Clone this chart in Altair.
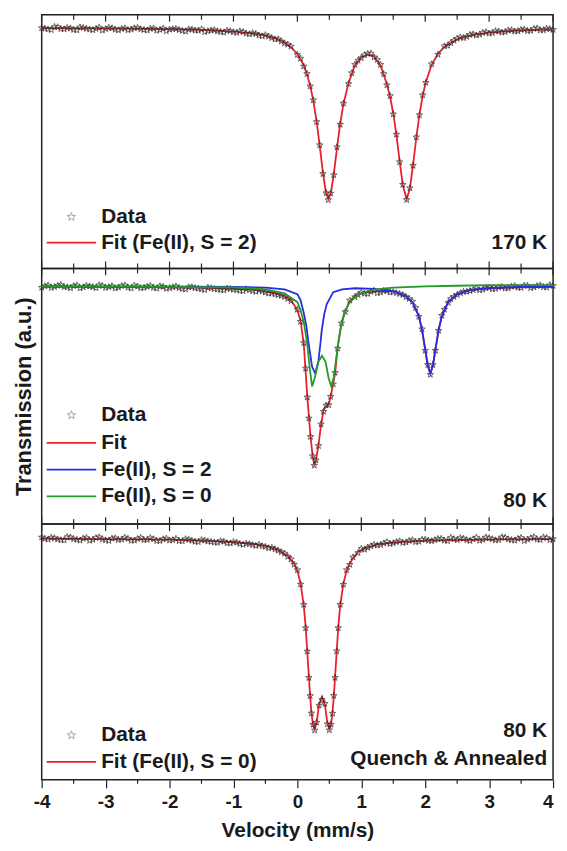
import altair as alt
import pandas as pd

FONT = "Liberation Sans"
RED = "#e8202a"
BLUE = "#2a2ae6"
GREEN = "#249a2c"
DARK = "#1a1a1a"
STAR = ("M0,-1L0.235,-0.324L0.951,-0.309L0.380,0.124L0.588,0.809L0,0.4L-0.588,0.809"
        "L-0.380,0.124L-0.951,-0.309L-0.235,-0.324Z")

# ---------------- axis ticks ----------------
major_ticks = [-4, -3, -2, -1, 0, 1, 2, 3, 4]
minor_ticks = [-3.5, -2.5, -1.5, -0.5, 0.5, 1.5, 2.5, 3.5]

# ---------------- panel 1 : 170 K ----------------
p1_fit_x = [-4.0, -3.0, -2.0, -1.5, -1.0, -0.7, -0.5, -0.3, -0.2, -0.1, 0.0, 0.05, 0.1, 0.15, 0.2, 0.25,
            0.3, 0.35, 0.4, 0.45, 0.485, 0.52, 0.57, 0.62, 0.67, 0.72, 0.8, 0.9, 1.0, 1.1, 1.2, 1.3, 1.4,
            1.45, 1.5, 1.55, 1.6, 1.65, 1.71, 1.76, 1.81, 1.86, 1.91, 1.96, 2.01, 2.1, 2.2, 2.3, 2.5, 2.7,
            3.0, 3.5, 4.0]
p1_fit_y = [99.97, 99.95, 99.91, 99.87, 99.77, 99.66, 99.54, 99.31, 99.13, 98.86, 98.46, 98.16, 97.78,
            97.28, 96.62, 95.73, 94.55, 93.10, 91.52, 90.31, 90.00, 90.28, 91.45, 92.98, 94.40, 95.53,
            96.76, 97.80, 98.27, 98.44, 98.32, 97.80, 96.69, 95.98, 94.99, 93.72, 92.21, 90.79, 90.00,
            90.60, 91.99, 93.56, 94.94, 96.02, 96.83, 97.83, 98.47, 98.88, 99.32, 99.54, 99.71, 99.84,
            99.90]
p1_data_x = [-4.0, -3.9, -3.8, -3.7, -3.6, -3.5, -3.4, -3.3, -3.2, -3.1, -3.0, -2.9, -2.8, -2.7, -2.6,
             -2.5, -2.4, -2.3, -2.2, -2.1, -2.0, -1.9, -1.8, -1.7, -1.6, -1.5, -1.4, -1.3, -1.2, -1.1,
             -1.0, -0.9, -0.8, -0.7, -0.6, -0.5, -0.4, -0.3, -0.2, -0.1, 0.0, 0.05, 0.1, 0.15, 0.2, 0.25,
             0.3, 0.35, 0.4, 0.45, 0.485, 0.52, 0.57, 0.62, 0.67, 0.72, 0.8, 0.9, 1.0, 1.1, 1.2, 1.3, 1.4,
             1.45, 1.5, 1.55, 1.6, 1.65, 1.71, 1.76, 1.81, 1.86, 1.91, 1.96, 2.01, 2.1, 2.2, 2.3, 2.4, 2.5,
             2.6, 2.7, 2.8, 2.9, 3.0, 3.1, 3.2, 3.3, 3.4, 3.5, 3.6, 3.7, 3.8, 3.9, 4.0]
p1_data_y = [99.98, 99.90, 100.05, 99.93, 99.99, 99.88, 100.02, 99.94, 99.86, 100.01, 99.92, 99.97,
             99.85, 99.96, 99.90, 100.00, 99.87, 99.94, 99.83, 99.95, 99.89, 99.93, 99.82, 99.90, 99.84,
             99.91, 99.80, 99.86, 99.76, 99.83, 99.74, 99.79, 99.66, 99.68, 99.55, 99.57, 99.40, 99.33,
             99.08, 98.90, 98.42, 98.20, 97.74, 97.31, 96.58, 95.77, 94.50, 93.15, 91.47, 90.35, 89.95,
             90.33, 91.40, 93.03, 94.35, 95.58, 96.72, 97.84, 98.23, 98.48, 98.28, 97.84, 96.65, 96.02,
             94.95, 93.77, 92.16, 90.84, 89.96, 90.64, 91.95, 93.61, 94.90, 96.06, 96.79, 97.87, 98.43,
             98.92, 99.10, 99.36, 99.40, 99.58, 99.55, 99.70, 99.66, 99.80, 99.72, 99.84, 99.78, 99.88,
             99.81, 99.93, 99.85, 99.95, 99.88]
p1_data2_x = [-3.95, -3.85, -3.75, -3.65, -3.55, -3.45, -3.35, -3.25, -3.15, -3.05, -2.95, -2.85, -2.75,
              -2.65, -2.55, -2.45, -2.35, -2.25, -2.15, -2.05, -1.95, -1.85, -1.75, -1.65, -1.55, -1.45,
              -1.35, -1.25, -1.15, -1.05, -0.95, -0.85, -0.75, -0.65, -0.55, -0.45, -0.35, -0.25, -0.15,
              0.85, 0.95, 1.05, 1.15, 1.25, 1.35, 2.35, 2.45, 2.55, 2.65, 2.75, 2.85, 2.95, 3.05, 3.15,
              3.25, 3.35, 3.45, 3.55, 3.65, 3.75, 3.85, 3.95]
p1_data2_y = [99.95, 99.87, 100.03, 99.91, 99.96, 99.85, 99.99, 99.90, 99.94, 99.84, 100.00, 99.89, 99.93,
              99.86, 99.97, 99.91, 99.84, 99.96, 99.88, 99.80, 99.92, 99.87, 99.78, 99.89, 99.83, 99.75,
              99.84, 99.79, 99.72, 99.80, 99.70, 99.75, 99.62, 99.64, 99.50, 99.49, 99.32, 99.20, 99.02,
              97.35, 98.08, 98.40, 98.50, 98.12, 97.30, 98.95, 99.25, 99.44, 99.47, 99.62, 99.60, 99.74,
              99.69, 99.78, 99.75, 99.86, 99.80, 99.90, 99.83, 99.96, 99.86, 99.92]

# ---------------- panel 2 : 80 K ----------------
p2_fit_x = [-4.0, -3.0, -2.0, -1.5, -1.0, -0.7, -0.5, -0.3, -0.2, -0.1, 0.0, 0.05, 0.1, 0.155, 0.205, 0.24,
            0.265, 0.29, 0.33, 0.37, 0.41, 0.45, 0.49, 0.52, 0.56, 0.59, 0.63, 0.69, 0.75, 0.82, 0.9, 1.0,
            1.2, 1.5, 1.7, 1.8, 1.9, 1.95, 2.0, 2.04, 2.08, 2.12, 2.16, 2.21, 2.26, 2.36, 2.5, 2.7, 3.0,
            3.5, 4.0]
p2_fit_y = [100.00, 99.97, 99.94, 99.92, 99.86, 99.81, 99.72, 99.56, 99.44, 99.22, 98.67, 98.06, 96.78,
            93.83, 91.61, 90.44, 90.00, 90.22, 91.11, 92.22, 93.06, 93.28, 93.39, 93.78, 94.56, 95.11,
            96.56, 97.89, 98.61, 99.17, 99.44, 99.61, 99.72, 99.72, 99.44, 99.11, 98.33, 97.56, 96.44,
            95.56, 95.11, 95.56, 96.44, 97.56, 98.33, 99.11, 99.56, 99.78, 99.89, 99.94, 99.97]
p2_s2_x = [-4.0, -2.0, -1.0, -0.5, -0.2, 0.0, 0.05, 0.1, 0.14, 0.17, 0.2, 0.23, 0.28, 0.33, 0.36, 0.38,
           0.42, 0.46, 0.56, 0.7, 0.9, 1.2, 1.5, 1.7, 1.8, 1.9, 1.95, 2.0, 2.04, 2.08, 2.12, 2.16, 2.21,
           2.26, 2.36, 2.5, 2.7, 3.0, 3.5, 4.0]
p2_s2_y = [99.98, 99.98, 99.96, 99.93, 99.83, 99.56, 99.22, 98.50, 97.78, 96.94, 96.22, 95.50, 95.11,
           95.83, 96.78, 97.50, 98.44, 99.00, 99.67, 99.83, 99.89, 99.86, 99.73, 99.46, 99.11, 98.32,
           97.56, 96.46, 95.54, 95.11, 95.54, 96.46, 97.56, 98.32, 99.13, 99.57, 99.79, 99.91, 99.96,
           99.98]
p2_s0_x = [-4.0, -2.0, -1.0, -0.5, -0.2, 0.0, 0.05, 0.1, 0.15, 0.2, 0.23, 0.27, 0.33, 0.385, 0.44, 0.49,
           0.53, 0.57, 0.62, 0.67, 0.72, 0.8, 0.9, 1.0, 1.2, 1.5, 2.0, 2.5, 3.0, 4.0]
p2_s0_y = [100.00, 99.97, 99.94, 99.83, 99.61, 99.11, 98.67, 98.00, 96.89, 95.22, 94.39, 94.83, 95.78,
           96.11, 95.78, 94.83, 94.39, 94.89, 96.33, 97.56, 98.33, 99.00, 99.39, 99.61, 99.81, 99.92,
           100.00, 100.03, 100.06, 100.06]
p2_data_x = [-4.0, -3.9, -3.8, -3.7, -3.6, -3.5, -3.4, -3.3, -3.2, -3.1, -3.0, -2.9, -2.8, -2.7, -2.6,
             -2.5, -2.4, -2.3, -2.2, -2.1, -2.0, -1.9, -1.8, -1.7, -1.6, -1.5, -1.4, -1.3, -1.2, -1.1,
             -1.0, -0.9, -0.8, -0.7, -0.6, -0.5, -0.4, -0.3, -0.2, -0.1, 0.0, 0.05, 0.1, 0.13, 0.155,
             0.18, 0.205, 0.24, 0.265, 0.29, 0.33, 0.37, 0.41, 0.45, 0.49, 0.52, 0.56, 0.59, 0.63, 0.69,
             0.75, 0.82, 0.9, 1.0, 1.1, 1.2, 1.3, 1.4, 1.5, 1.6, 1.7, 1.8, 1.85, 1.9, 1.95, 2.0, 2.04,
             2.08, 2.12, 2.16, 2.21, 2.26, 2.3, 2.36, 2.4, 2.5, 2.6, 2.7, 2.8, 2.9, 3.0, 3.1, 3.2, 3.3,
             3.4, 3.5, 3.6, 3.7, 3.8, 3.9, 4.0]
p2_data_y = [99.93, 100.05, 99.97, 100.08, 99.95, 100.02, 99.90, 100.04, 99.96, 100.07, 99.92, 100.01,
             99.94, 100.06, 99.89, 99.99, 99.93, 100.03, 99.88, 99.97, 99.91, 100.00, 99.86, 99.95, 99.90,
             99.84, 99.93, 99.85, 99.80, 99.88, 99.82, 99.76, 99.84, 99.74, 99.78, 99.66, 99.61, 99.52,
             99.41, 99.18, 98.70, 98.02, 96.83, 95.40, 93.78, 92.60, 91.57, 90.48, 89.96, 90.25, 91.06,
             92.27, 92.98, 93.33, 93.35, 93.82, 94.51, 95.16, 96.52, 97.93, 98.57, 99.21, 99.40, 99.65,
             99.58, 99.76, 99.66, 99.74, 99.68, 99.58, 99.40, 99.15, 98.80, 98.30, 97.60, 96.40, 95.60,
             95.05, 95.60, 96.40, 97.52, 98.36, 98.70, 99.08, 99.30, 99.52, 99.70, 99.75, 99.88, 99.82,
             99.93, 99.86, 99.97, 99.90, 100.02, 99.92, 100.04, 99.95, 100.06, 99.94, 100.03]
p2_data2_x = [-3.95, -3.85, -3.75, -3.65, -3.55, -3.45, -3.35, -3.25, -3.15, -3.05, -2.95, -2.85, -2.75,
              -2.65, -2.55, -2.45, -2.35, -2.25, -2.15, -2.05, -1.95, -1.85, -1.75, -1.65, -1.55, -1.45,
              -1.35, -1.25, -1.15, -1.05, -0.95, -0.85, -0.75, -0.65, -0.55, -0.45, -0.35, -0.25, -0.15,
              0.95, 1.05, 1.15, 1.25, 1.35, 1.45, 1.55, 1.65, 1.75, 2.45, 2.55, 2.65, 2.75, 2.85, 2.95,
              3.05, 3.15, 3.25, 3.35, 3.45, 3.55, 3.65, 3.75, 3.85, 3.95]
p2_data2_y = [100.01, 99.92, 100.04, 99.97, 99.90, 100.06, 99.95, 100.00, 99.91, 100.03, 99.96, 99.89,
              100.02, 99.94, 100.05, 99.90, 99.98, 99.92, 100.01, 99.87, 99.95, 99.91, 99.83, 99.96, 99.88,
              99.80, 99.90, 99.83, 99.78, 99.86, 99.80, 99.73, 99.79, 99.70, 99.72, 99.60, 99.55, 99.47,
              99.30, 99.52, 99.60, 99.70, 99.62, 99.75, 99.66, 99.63, 99.52, 99.30, 99.42, 99.62, 99.70,
              99.80, 99.78, 99.90, 99.84, 99.95, 99.88, 99.99, 99.93, 100.05, 99.91, 100.02, 99.96, 100.07]

# ---------------- panel 3 : 80 K quench & annealed ----------------
p3_fit_x = [-4.0, -3.0, -2.0, -1.5, -1.0, -0.7, -0.5, -0.3, -0.15, -0.05, 0.0, 0.05, 0.1, 0.13, 0.155,
            0.18, 0.2, 0.22, 0.245, 0.27, 0.3, 0.34, 0.385, 0.43, 0.47, 0.5, 0.525, 0.55, 0.57, 0.59,
            0.615, 0.64, 0.67, 0.72, 0.77, 0.82, 0.87, 0.95, 1.1, 1.3, 1.6, 2.0, 3.0, 4.0]
p3_fit_y = [99.97, 99.95, 99.92, 99.87, 99.79, 99.69, 99.59, 99.38, 99.07, 98.65, 98.29, 97.62, 96.48,
            95.34, 94.04, 92.75, 91.71, 90.88, 90.21, 90.00, 90.31, 91.30, 91.71, 91.30, 90.31, 90.00,
            90.21, 90.88, 91.71, 92.75, 94.04, 95.34, 96.48, 97.62, 98.29, 98.65, 98.96, 99.27, 99.53,
            99.69, 99.79, 99.87, 99.92, 99.95]
p3_data_x = [-4.0, -3.9, -3.8, -3.7, -3.6, -3.5, -3.4, -3.3, -3.2, -3.1, -3.0, -2.9, -2.8, -2.7, -2.6,
             -2.5, -2.4, -2.3, -2.2, -2.1, -2.0, -1.9, -1.8, -1.7, -1.6, -1.5, -1.4, -1.3, -1.2, -1.1,
             -1.0, -0.9, -0.8, -0.7, -0.6, -0.5, -0.4, -0.3, -0.2, -0.15, -0.1, -0.05, 0.0, 0.05, 0.1,
             0.13, 0.155, 0.18, 0.2, 0.22, 0.245, 0.27, 0.3, 0.34, 0.385, 0.43, 0.47, 0.5, 0.525, 0.55,
             0.57, 0.59, 0.615, 0.64, 0.67, 0.72, 0.77, 0.82, 0.87, 0.95, 1.0, 1.1, 1.2, 1.3, 1.4, 1.5,
             1.6, 1.7, 1.8, 1.9, 2.0, 2.1, 2.2, 2.3, 2.4, 2.5, 2.6, 2.7, 2.8, 2.9, 3.0, 3.1, 3.2, 3.3,
             3.4, 3.5, 3.6, 3.7, 3.8, 3.9, 4.0]
p3_data_y = [100.04, 99.93, 100.00, 99.90, 100.06, 99.95, 99.88, 100.02, 99.92, 100.05, 99.89, 99.98,
             99.91, 100.03, 99.87, 99.96, 99.90, 100.01, 99.85, 99.94, 99.88, 99.97, 99.84, 99.92, 99.82,
             99.90, 99.83, 99.78, 99.85, 99.74, 99.80, 99.70, 99.72, 99.64, 99.66, 99.55, 99.50, 99.35,
             99.20, 99.03, 98.90, 98.62, 98.33, 97.58, 96.52, 95.30, 94.08, 92.70, 91.75, 90.84, 90.25,
             89.95, 90.36, 91.25, 91.55, 91.34, 90.27, 89.96, 90.25, 90.83, 91.76, 92.70, 94.09, 95.30,
             96.52, 97.57, 98.33, 98.61, 99.00, 99.23, 99.45, 99.50, 99.66, 99.65, 99.80, 99.74, 99.84,
             99.78, 99.90, 99.82, 99.93, 99.85, 99.96, 99.88, 100.02, 99.90, 99.98, 99.86, 100.03, 99.92,
             100.00, 99.89, 100.05, 99.94, 99.88, 100.02, 99.93, 100.06, 99.91, 100.01, 99.95]
p3_data2_x = [-3.95, -3.85, -3.75, -3.65, -3.55, -3.45, -3.35, -3.25, -3.15, -3.05, -2.95, -2.85, -2.75,
              -2.65, -2.55, -2.45, -2.35, -2.25, -2.15, -2.05, -1.95, -1.85, -1.75, -1.65, -1.55, -1.45,
              -1.35, -1.25, -1.15, -1.05, -0.95, -0.85, -0.75, -0.65, -0.55, -0.45, -0.35, -0.25, 1.05,
              1.15, 1.25, 1.35, 1.45, 1.55, 1.65, 1.75, 1.85, 1.95, 2.05, 2.15, 2.25, 2.35, 2.45, 2.55,
              2.65, 2.75, 2.85, 2.95, 3.05, 3.15, 3.25, 3.35, 3.45, 3.55, 3.65, 3.75, 3.85, 3.95]
p3_data2_y = [99.97, 100.03, 99.94, 99.89, 100.04, 99.92, 99.98, 99.87, 100.01, 99.94, 99.86, 100.00,
              99.93, 99.97, 99.88, 100.02, 99.91, 99.95, 99.86, 99.98, 99.90, 99.85, 99.95, 99.87, 99.80,
              99.88, 99.81, 99.76, 99.82, 99.73, 99.77, 99.66, 99.69, 99.60, 99.58, 99.48, 99.42, 99.27,
              99.40, 99.58, 99.62, 99.73, 99.70, 99.80, 99.76, 99.86, 99.80, 99.92, 99.87, 99.90, 99.97,
              99.85, 99.95, 100.01, 99.90, 99.94, 99.87, 100.04, 99.95, 99.91, 100.03, 99.90, 99.97,
              99.86, 100.00, 99.93, 100.04, 99.90]

p1_legend = ["Data", "Fit (Fe(II), S = 2)"]
p2_legend = ["Data", "Fit", "Fe(II), S = 2", "Fe(II), S = 0"]
p3_legend = ["Data", "Fit (Fe(II), S = 0)"]
p1_notes = ["170 K"]
p2_notes = ["80 K"]
p3_notes = ["80 K", "Quench & Annealed"]

W = 516
H1, H2, H3 = 256, 258, 258
Y1 = [85.95, 100.75]
Y2 = [86.67, 101.0]
Y3 = [87.36, 100.73]
YTITLE = "Transmission (a.u.)"

yaxis_title = alt.Axis(title=YTITLE, labels=False, ticks=False, domain=False, grid=False,
                       titleFont=FONT, titleFontSize=22, titleFontWeight="bold", titleColor=DARK,
                       titlePadding=6)


def make_panel(fits, data_x, data_y, dom, h, legend_items, notes, xaxis, yaxis, bottom_inside):
    xs = alt.X("v:Q", scale=alt.Scale(domain=[-4, 4], nice=False, zero=False), axis=xaxis)
    ys = alt.Y("t:Q", scale=alt.Scale(domain=dom, nice=False, zero=False), axis=yaxis)
    layers = []
    for fx, fy, col in fits:
        layers.append(alt.Chart(pd.DataFrame({"v": fx, "t": fy})).mark_line(
            color=col, strokeWidth=1.8).encode(x=xs, y=ys))
    # data stars (drawn above the total fit, below the component fits)
    layers.insert(1, alt.Chart(pd.DataFrame({"v": data_x, "t": data_y})).mark_point(
        shape=STAR, size=46, filled=False, color="#2e2e2e", strokeWidth=0.85, opacity=0.85
    ).encode(x=xs, y=ys))
    # inward ticks
    for vals, ln in ((major_ticks, 7), (minor_ticks, 5)):
        d = pd.DataFrame({"v": vals})
        layers.append(alt.Chart(d).mark_rule(color="#222", strokeWidth=1.2).encode(
            x=xs, y=alt.value(0), y2=alt.value(ln)))
        if bottom_inside:
            layers.append(alt.Chart(d).mark_rule(color="#222", strokeWidth=1.2).encode(
                x=xs, y=alt.value(h), y2=alt.value(h - ln)))
        elif ln == 5:
            layers.append(alt.Chart(d).mark_rule(color="#222", strokeWidth=1.2).encode(
                x=xs, y=alt.value(h), y2=alt.value(h + 4)))
    # legend entries
    for label, kind, color, ypos in legend_items:
        if kind == "star":
            layers.append(alt.Chart(pd.DataFrame({"label": [label]})).mark_point(
                shape=STAR, size=80, filled=False, color="#777", strokeWidth=0.9
            ).encode(x=alt.value(30), y=alt.value(ypos)))
        else:
            layers.append(alt.Chart(pd.DataFrame({"label": [label]})).mark_rule(
                color=color, strokeWidth=1.8
            ).encode(x=alt.value(5), x2=alt.value(55), y=alt.value(ypos)))
        layers.append(alt.Chart(pd.DataFrame({"label": [label]})).mark_text(
            align="left", baseline="middle", font=FONT, fontSize=21, fontWeight="bold", color=DARK
        ).encode(x=alt.value(60), y=alt.value(ypos), text="label:N"))
    for label, ypos in notes:
        layers.append(alt.Chart(pd.DataFrame({"label": [label]})).mark_text(
            align="right", baseline="middle", font=FONT, fontSize=21, fontWeight="bold", color=DARK
        ).encode(x=alt.value(W - 6), y=alt.value(ypos), text="label:N"))
    return alt.layer(*layers).properties(width=W, height=h)


xaxis_bottom = alt.Axis(values=major_ticks, tickSize=8, tickWidth=1.2, tickColor="#222", domain=False,
                        grid=False, labelFont=FONT, labelFontSize=19, labelFontWeight="bold",
                        labelColor=DARK, labelPadding=5, labelExpr="'' + datum.value",
                        labelAlign={"condition": {"test": "datum.value == 4", "value": "right"},
                                    "value": "center"},
                        title="Velocity (mm/s)", titleFont=FONT, titleFontSize=21, titleFontWeight="bold",
                        titleColor=DARK, titlePadding=8)

p1 = make_panel([(p1_fit_x, p1_fit_y, RED)], p1_data_x + p1_data2_x, p1_data_y + p1_data2_y, Y1, H1,
                [(p1_legend[0], "star", None, 204), (p1_legend[1], "line", RED, 230)],
                [(p1_notes[0], 230)], None, None, True)
p2 = make_panel([(p2_fit_x, p2_fit_y, RED), (p2_s2_x, p2_s2_y, BLUE), (p2_s0_x, p2_s0_y, GREEN)],
                p2_data_x + p2_data2_x, p2_data_y + p2_data2_y, Y2, H2,
                [(p2_legend[0], "star", None, 148), (p2_legend[1], "line", RED, 176),
                 (p2_legend[2], "line", BLUE, 203), (p2_legend[3], "line", GREEN, 230)],
                [(p2_notes[0], 235)], None, yaxis_title, True)
p3 = make_panel([(p3_fit_x, p3_fit_y, RED)], p3_data_x + p3_data2_x, p3_data_y + p3_data2_y, Y3, H3,
                [(p3_legend[0], "star", None, 213), (p3_legend[1], "line", RED, 240)],
                [(p3_notes[0], 209), (p3_notes[1], 237)], xaxis_bottom, None, False)

chart = alt.vconcat(p1, p2, p3, spacing=0, bounds="flush").properties(
    padding={"left": 4, "top": 1, "right": 0, "bottom": 0}, background="white"
).configure_view(stroke="#222", strokeWidth=1.5)

chart.save("out.html", embed_options={"renderer": "svg", "actions": False})
